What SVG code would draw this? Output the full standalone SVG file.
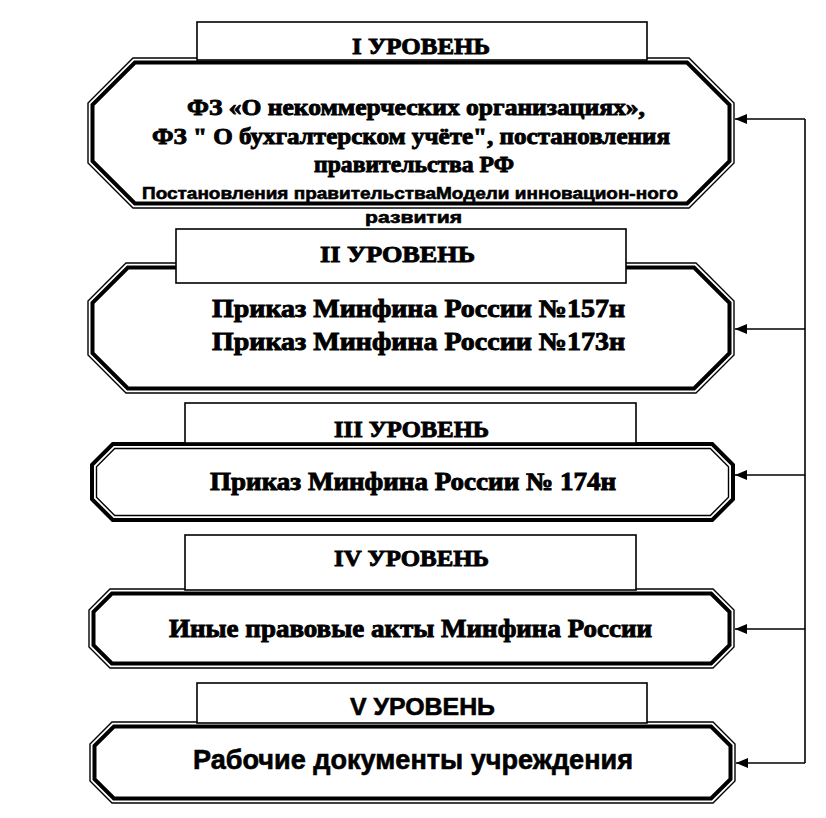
<svg xmlns="http://www.w3.org/2000/svg" width="826" height="818" viewBox="0 0 826 818">
<style>
.thin{fill:none;stroke:#000;stroke-width:1.4}
.thick{fill:none;stroke:#000;stroke-width:4}
.bg{fill:#fff;stroke:none}
.lbl{fill:#fff;stroke:#000;stroke-width:1.6}
.s{font-family:"Liberation Serif","Times New Roman",serif;font-weight:bold;fill:#000;stroke:#000;stroke-width:0.9}
.a{font-family:"Liberation Sans",Arial,sans-serif;font-weight:bold;fill:#000;stroke:#000;stroke-width:0.6}
.ln{stroke:#000;stroke-width:1.6;fill:none}
</style>
<defs>
<marker id="ah" viewBox="0 0 12 10" refX="12" refY="5" markerWidth="12" markerHeight="10" markerUnits="userSpaceOnUse" orient="auto">
<path d="M0,0 L12,5 L0,10 Z" fill="#000"/>
</marker>
</defs>
<rect width="826" height="818" fill="#fff"/>

<g id="level1">
<polygon class="bg" points="133,58 689,58 734,103 734,163 689,208 133,208 88,163 88,103"/>
<polygon class="thin" points="133,58 689,58 734,103 734,163 689,208 133,208 88,163 88,103"/>
<polygon class="thick" points="134.9,62.5 687.1,62.5 729.5,104.9 729.5,161.1 687.1,203.5 134.9,203.5 92.5,161.1 92.5,104.9"/>
<rect class="lbl" x="197" y="22" width="450" height="38"/>
<text class="s" x="352" y="54" font-size="24" textLength="138" lengthAdjust="spacingAndGlyphs">I УРОВЕНЬ</text>
<text class="s" x="187" y="115" font-size="23" textLength="458" lengthAdjust="spacingAndGlyphs">ФЗ «О некоммерческих организациях»,</text>
<text class="s" x="152" y="144" font-size="23" textLength="518" lengthAdjust="spacingAndGlyphs">ФЗ " О бухгалтерском учёте", постановления</text>
<text class="s" x="314" y="172" font-size="23" textLength="200" lengthAdjust="spacingAndGlyphs">правительства РФ</text>
<text class="a" x="142" y="199" font-size="17" textLength="536" lengthAdjust="spacingAndGlyphs">Постановления правительстваМодели инновацион-ного</text>
<text class="a" x="365" y="223" font-size="17" textLength="97" lengthAdjust="spacingAndGlyphs">развития</text>
</g>

<g id="level2">
<polygon class="bg" points="126,263 696,263 734,301 734,355 696,393 126,393 88,355 88,301"/>
<polygon class="thin" points="126,263 696,263 734,301 734,355 696,393 126,393 88,355 88,301"/>
<polygon class="thick" points="127.9,267.5 694.1,267.5 729.5,302.9 729.5,353.1 694.1,388.5 127.9,388.5 92.5,353.1 92.5,302.9"/>
<rect class="lbl" x="176" y="229" width="450" height="54"/>
<text class="s" x="320" y="262" font-size="24" textLength="155" lengthAdjust="spacingAndGlyphs">II УРОВЕНЬ</text>
<text class="s" x="212" y="317" font-size="25" textLength="413" lengthAdjust="spacingAndGlyphs">Приказ Минфина России №157н</text>
<text class="s" x="212" y="350" font-size="25" textLength="413" lengthAdjust="spacingAndGlyphs">Приказ Минфина России №173н</text>
</g>

<g id="level3">
<polygon class="bg" points="112.8,444 712.2,444 733,464.8 733,499.2 712.2,520 112.8,520 92,499.2 92,464.8"/>
<polygon class="thick" points="112.8,444 712.2,444 733,464.8 733,499.2 712.2,520 112.8,520 92,499.2 92,464.8"/>
<polygon class="thin" points="114.7,448.5 710.3,448.5 728.5,466.7 728.5,497.3 710.3,515.5 114.7,515.5 96.5,497.3 96.5,466.7"/>
<rect class="lbl" x="185" y="403" width="451" height="40"/>
<text class="s" x="334" y="437" font-size="24" textLength="155" lengthAdjust="spacingAndGlyphs">III УРОВЕНЬ</text>
<text class="s" x="210" y="490" font-size="25" textLength="406" lengthAdjust="spacingAndGlyphs">Приказ Минфина России № 174н</text>
</g>

<g id="level4">
<polygon class="bg" points="110,589 713,589 734,610 734,647 713,668 110,668 89,647 89,610"/>
<polygon class="thin" points="110,589 713,589 734,610 734,647 713,668 110,668 89,647 89,610"/>
<polygon class="thick" points="111.9,593.5 711.1,593.5 729.5,611.9 729.5,645.1 711.1,663.5 111.9,663.5 93.5,645.1 93.5,611.9"/>
<rect class="lbl" x="185" y="535" width="451" height="55"/>
<text class="s" x="334" y="566" font-size="24" textLength="155" lengthAdjust="spacingAndGlyphs">IV УРОВЕНЬ</text>
<text class="s" x="169" y="637" font-size="25" textLength="483" lengthAdjust="spacingAndGlyphs">Иные правовые акты Минфина России</text>
</g>

<g id="level5">
<polygon class="bg" points="112,722 713,722 735,744 735,781 713,803 112,803 90,781 90,744"/>
<polygon class="thin" points="112,722 713,722 735,744 735,781 713,803 112,803 90,781 90,744"/>
<polygon class="thick" points="113.9,726.5 711.1,726.5 730.5,745.9 730.5,779.1 711.1,798.5 113.9,798.5 94.5,779.1 94.5,745.9"/>
<rect class="lbl" x="197" y="683" width="450" height="40"/>
<text class="a" x="350" y="715" font-size="24" textLength="145" lengthAdjust="spacingAndGlyphs">V УРОВЕНЬ</text>
<text class="a" x="193" y="769" font-size="27" textLength="440" lengthAdjust="spacingAndGlyphs">Рабочие документы учреждения</text>
</g>

<g id="connectors">
<path class="ln" d="M805,119 L805,763"/>
<path class="ln" d="M805,119 L735,119" marker-end="url(#ah)"/>
<path class="ln" d="M805,329 L735,329" marker-end="url(#ah)"/>
<path class="ln" d="M805,475 L735,475" marker-end="url(#ah)"/>
<path class="ln" d="M805,629 L735,629" marker-end="url(#ah)"/>
<path class="ln" d="M805,763 L736,763" marker-end="url(#ah)"/>
</g>
</svg>
